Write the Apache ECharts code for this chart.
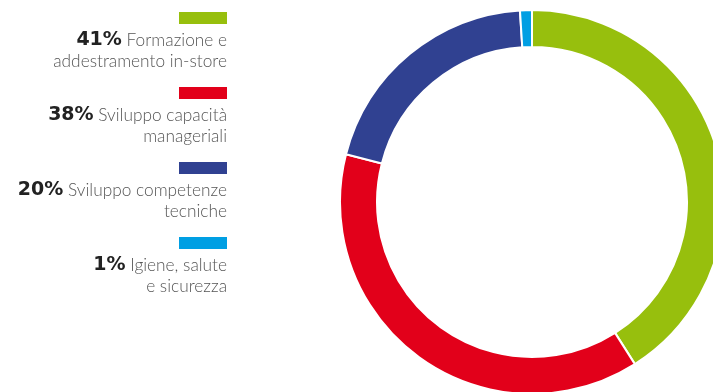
<!DOCTYPE html>
<html><head><meta charset="utf-8">
<script src="https://cdn.jsdelivr.net/npm/echarts@6/dist/echarts.min.js"></script>
<style>html,body{margin:0;padding:0;background:#fff}#c{width:713px;height:392px}</style>
</head><body><div id="c"></div>
<script>
const categories = ['Formazione e\naddestramento in-store', 'Sviluppo capacità\nmanageriali', 'Sviluppo competenze\ntecniche', 'Igiene, salute\ne sicurezza'];
const values = [41, 38, 20, 1];
const colors = ['#97BF0D', '#E2001A', '#304191', '#009FE3'];

const chart = echarts.init(document.getElementById('c'));
const graphics = [];
categories.forEach((name, i) => {
  const top = 12 + i * 75;
  graphics.push({type:'rect', left:179, top:top, shape:{width:48, height:12}, style:{fill:colors[i]}});
  const lines = name.split('\n');
  graphics.push({type:'text', x:227, y:top + 18, style:{
    text: '{b|' + values[i] + '%} ' + lines[0] + '\n' + lines[1],
    align:'right', verticalAlign:'top',
    font:'300 17.3px Lato', fill:'#555', lineHeight:21,
    rich:{b:{font:'bold 19px "DejaVu Sans"', fill:'#222', lineHeight:21}}
  }});
});
chart.setOption({
  animation:false,
  graphic: graphics,
  series:[{
    type:'pie', center:[532,202], radius:[155,192], startAngle:90, clockwise:true,
    label:{show:false}, labelLine:{show:false},
    itemStyle:{borderColor:'#fff', borderWidth:2},
    data: categories.map((n,i)=>({name:n, value:values[i], itemStyle:{color:colors[i]}}))
  }]
});
</script></body></html>
